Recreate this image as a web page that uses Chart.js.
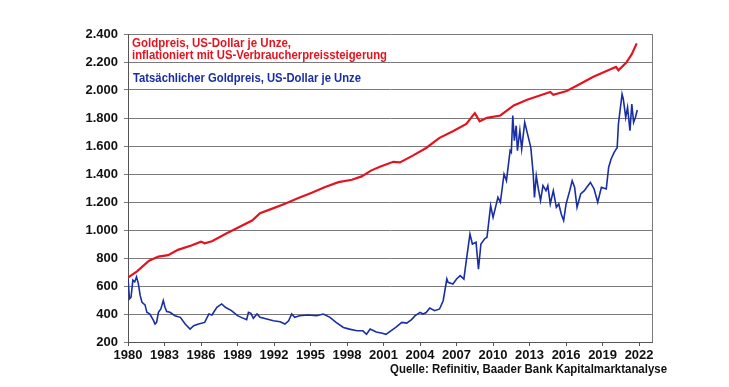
<!DOCTYPE html>
<html lang="de">
<head>
<meta charset="utf-8">
<title>Goldpreis</title>
<script src="https://cdn.jsdelivr.net/npm/chart.js@4.4.1/dist/chart.umd.min.js"></script>
<style>
  html, body { margin: 0; padding: 0; background: #fff; }
</style>
</head>
<body>
<canvas id="goldChart" width="729" height="387"></canvas>
<script>
// Achsenbeschriftungen
const xTicks = [1980, 1983, 1986, 1989, 1992, 1995, 1998, 2001, 2004, 2007, 2010, 2013, 2016, 2019, 2022];
const yTicks = [200, 400, 600, 800, 1000, 1200, 1400, 1600, 1800, 2000, 2200, 2400];

// Tatsächlicher Goldpreis (US-Dollar je Unze)
const goldDaten = [1980.00, 1980.12, 1980.25, 1980.40, 1980.55, 1980.70, 1980.85, 1981.00, 1981.15, 1981.40,
  1981.55, 1981.80, 1982.10, 1982.22, 1982.35, 1982.50, 1982.70, 1982.90, 1983.04, 1983.18,
  1983.45, 1983.86, 1984.30, 1984.70, 1985.10, 1985.40, 1985.80, 1986.30, 1986.65, 1986.90,
  1987.30, 1987.70, 1988.00, 1988.50, 1989.00, 1989.30, 1989.75, 1989.90, 1990.10, 1990.30,
  1990.60, 1990.85, 1991.40, 1991.95, 1992.50, 1992.90, 1993.20, 1993.45, 1993.70, 1994.10,
  1994.80, 1995.50, 1996.05, 1996.60, 1997.10, 1997.70, 1998.20, 1998.80, 1999.30, 1999.60,
  1999.90, 2000.40, 2000.90, 2001.20, 2001.60, 2002.00, 2002.50, 2002.90, 2003.30, 2003.60,
  2004.00, 2004.25, 2004.50, 2004.80, 2005.20, 2005.60, 2005.90, 2006.20, 2006.30, 2006.70,
  2007.00, 2007.30, 2007.60, 2007.80, 2008.10, 2008.30, 2008.60, 2008.80, 2009.00, 2009.30,
  2009.50, 2009.80, 2010.00, 2010.40, 2010.60, 2010.90, 2011.10, 2011.40, 2011.50, 2011.62,
  2011.75, 2011.90, 2012.00, 2012.20, 2012.35, 2012.60, 2012.90, 2013.10, 2013.30, 2013.40,
  2013.55, 2013.70, 2013.90, 2014.10, 2014.35, 2014.50, 2014.70, 2014.95, 2015.20, 2015.40,
  2015.60, 2015.80, 2016.00, 2016.30, 2016.50, 2016.70, 2016.90, 2017.20, 2017.50, 2017.70,
  2018.00, 2018.30, 2018.60, 2018.90, 2019.30, 2019.50, 2019.70, 2019.95, 2020.20, 2020.30,
  2020.60, 2020.70, 2020.90, 2021.05, 2021.25, 2021.40, 2021.55, 2021.70, 2021.85];
const goldPreis = [653, 508, 520, 641, 629, 665, 617, 533, 484, 465,
  412, 400, 352, 328, 340, 412, 436, 496, 448, 417,
  412, 388, 376, 328, 292, 316, 328, 340, 400, 393,
  448, 472, 448, 424, 388, 376, 359, 412, 405, 369,
  400, 376, 364, 352, 345, 328, 352, 400, 376, 388,
  393, 388, 400, 376, 340, 304, 292, 280, 280, 255,
  292, 272, 263, 255, 280, 304, 340, 335, 360, 388,
  412, 400, 410, 443, 424, 436, 495, 650, 626, 614,
  650, 674, 650, 781, 971, 900, 912, 721, 900, 936,
  948, 1174, 1090, 1233, 1198, 1400, 1352, 1567, 1555, 1817,
  1638, 1745, 1567, 1710, 1579, 1769, 1662, 1590, 1400, 1233,
  1388, 1305, 1210, 1317, 1281, 1317, 1186, 1281, 1162, 1186,
  1114, 1067, 1186, 1281, 1352, 1305, 1162, 1257, 1281, 1305,
  1340, 1293, 1198, 1305, 1293, 1448, 1507, 1555, 1590, 1757,
  1971, 1936, 1805, 1876, 1710, 1900, 1769, 1805, 1857];

// Goldpreis inflationiert mit US-Verbraucherpreisen
const inflDaten = [1980.00, 1980.74, 1981.73, 1982.50, 1983.30, 1984.10, 1985.20, 1986.00, 1986.30, 1986.90,
  1988.00, 1989.10, 1990.20, 1990.85, 1991.80, 1992.90, 1994.00, 1995.10, 1996.20, 1997.30,
  1998.40, 1999.20, 2000.00, 2000.70, 2001.80, 2002.35, 2003.40, 2004.50, 2005.60, 2006.70,
  2007.80, 2008.50, 2008.90, 2009.50, 2010.60, 2011.70, 2012.80, 2013.90, 2014.70, 2014.95,
  2016.05, 2017.10, 2018.20, 2019.60, 2020.10, 2020.30, 2020.95, 2021.40, 2021.80];
const goldInflationiert = [660, 705, 781, 810, 820, 858, 889, 917, 905, 920,
  972, 1020, 1068, 1120, 1151, 1187, 1228, 1266, 1307, 1342,
  1359, 1383, 1426, 1452, 1487, 1483, 1531, 1586, 1658, 1705,
  1758, 1835, 1777, 1801, 1818, 1890, 1931, 1962, 1986, 1966,
  1993, 2041, 2093, 2146, 2165, 2141, 2196, 2256, 2333];

const fontFamily = "'Liberation Sans Narrow', 'Liberation Sans', Arial, sans-serif";
const rot = '#e3141f';
const blau = '#1a2ea3';

function tausender(v) {
    return String(v).replace(/\B(?=(\d{3})+(?!\d))/g, '.');
}

function punkte(daten, werte) {
    return daten.map((d, i) => ({ x: d, y: werte[i] }));
}

// Beschriftungen im Diagramm, rechter Rahmen und Quelle
const beschriftung = {
    id: 'beschriftung',
    afterDraw(chart) {
        const ctx = chart.ctx;
        const area = chart.chartArea;
        ctx.save();

        ctx.strokeStyle = '#7a7a7a';
        ctx.lineWidth = 1;
        ctx.beginPath();
        ctx.moveTo(Math.round(area.right) + 0.5, area.top);
        ctx.lineTo(Math.round(area.right) + 0.5, area.bottom);
        ctx.stroke();

        ctx.textBaseline = 'middle';
        ctx.textAlign = 'left';
        ctx.font = 'bold 13.5px ' + fontFamily;
        ctx.fillStyle = rot;
        ctx.fillText('Goldpreis, US-Dollar je Unze,', 132, 43, 159);
        ctx.fillText('inflationiert mit US-Verbraucherpreissteigerung', 132, 55, 255);
        ctx.fillStyle = blau;
        ctx.fillText('Tatsächlicher Goldpreis, US-Dollar je Unze', 133, 78, 228);

        ctx.fillStyle = '#111';
        ctx.textAlign = 'right';
        ctx.font = 'bold 13px ' + fontFamily;
        ctx.fillText('Quelle: Refinitiv, Baader Bank Kapitalmarktanalyse', 667, 369, 277);
        ctx.restore();
    }
};

const ctx = document.getElementById('goldChart').getContext('2d');
new Chart(ctx, {
    type: 'line',
    data: {
        datasets: [{
            label: 'Goldpreis, inflationiert mit US-Verbraucherpreissteigerung',
            data: punkte(inflDaten, goldInflationiert),
            borderColor: rot,
            borderWidth: 2.2,
            pointRadius: 0,
            tension: 0
        }, {
            label: 'Tatsächlicher Goldpreis, US-Dollar je Unze',
            data: punkte(goldDaten, goldPreis),
            borderColor: blau,
            borderWidth: 1.6,
            pointRadius: 0,
            tension: 0
        }]
    },
    options: {
        responsive: false,
        animation: false,
        layout: {
            padding: { top: 34, right: 77, bottom: 0, left: 0 }
        },
        plugins: {
            legend: { display: false },
            tooltip: { enabled: false }
        },
        scales: {
            x: {
                type: 'linear',
                min: 1980,
                max: 2023.06,
                afterBuildTicks: axis => { axis.ticks = xTicks.map(v => ({ value: v })); },
                afterFit: axis => { axis.height = 45; },
                grid: {
                    drawOnChartArea: false,
                    tickLength: 4,
                    color: '#555'
                },
                border: { color: '#555', width: 1 },
                ticks: {
                    autoSkip: false,
                    maxRotation: 0,
                    padding: 2,
                    color: '#111',
                    font: { family: fontFamily, size: 13, weight: 'bold' },
                    callback: v => String(v)
                }
            },
            y: {
                min: 200,
                max: 2400,
                afterBuildTicks: axis => { axis.ticks = yTicks.map(v => ({ value: v })); },
                afterFit: axis => { axis.width = 128; },
                grid: {
                    color: '#7a7a7a',
                    tickLength: 4
                },
                border: { color: '#555', width: 1 },
                ticks: {
                    padding: 6,
                    color: '#111',
                    font: { family: fontFamily, size: 13, weight: 'bold' },
                    callback: v => tausender(v)
                }
            }
        }
    },
    plugins: [beschriftung]
});
</script>
</body>
</html>
